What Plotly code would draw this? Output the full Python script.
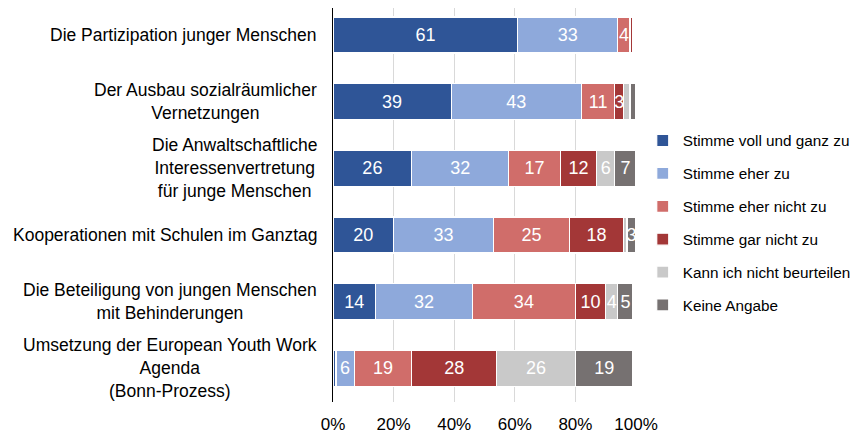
import plotly.graph_objects as go

# statements, top to bottom
categories = [
    "Die Partizipation junger Menschen",
    "Der Ausbau sozialräumlicher<br>Vernetzungen",
    "Die Anwaltschaftliche<br>Interessenvertretung<br>für junge Menschen",
    "Kooperationen mit Schulen im Ganztag",
    "Die Beteiligung von jungen Menschen<br>mit Behinderungen",
    "Umsetzung der European Youth Work<br>Agenda<br>(Bonn-Prozess)",
]

voll_und_ganz = [61, 39, 26, 20, 14, 1]
eher_zu = [33, 43, 32, 33, 32, 6]
eher_nicht = [4, 11, 17, 25, 34, 19]
gar_nicht = [1, 3, 12, 18, 10, 28]
nicht_beurteilen = [0, 2, 6, 1, 4, 26]
keine_angabe = [0, 2, 7, 3, 5, 19]

x_ticks = [0, 20, 40, 60, 80, 100]

series = [
    ("Stimme voll und ganz zu", voll_und_ganz, "#2F5597"),
    ("Stimme eher zu", eher_zu, "#8EA9DB"),
    ("Stimme eher nicht zu", eher_nicht, "#D06D6A"),
    ("Stimme gar nicht zu", gar_nicht, "#A33737"),
    ("Kann ich nicht beurteilen", nicht_beurteilen, "#C9C9C9"),
    ("Keine Angabe", keine_angabe, "#767171"),
]

FONT = "Liberation Sans"
keys = list(range(len(categories)))

fig = go.Figure()
for i, (name, vals, color) in enumerate(series):
    # Excel hides labels for the tiny slivers
    labels = [str(v) if v >= 3 else "" for v in vals]
    fig.add_trace(go.Bar(
        y=keys, x=vals, name=name, orientation="h",
        marker=dict(color=color, line=dict(color="white", width=1.2)),
        text=labels, texttemplate="%{text}", textposition="inside",
        insidetextanchor="middle",
        textfont=dict(color="white", size=18, family=FONT),
        legendgroup=f"g{i}", width=0.54,
    ))

for k, cat in zip(keys, categories):
    fig.add_annotation(x=0, xref="paper", y=k, yref="y", text=cat,
                       showarrow=False, xanchor="right", align="center",
                       xshift=-14, font=dict(size=17.5, color="black", family=FONT))

# page body has an 8px margin, so the figure is 8px smaller and shifted
fig.update_layout(
    barmode="stack", width=852, height=425,
    margin=dict(l=325, r=224, t=0, b=31, autoexpand=False),
    plot_bgcolor="white", paper_bgcolor="white",
    font=dict(family=FONT, color="black"),
    uniformtext=dict(minsize=18, mode="show"),
    showlegend=True,
    legend=dict(xref="container", yref="container", x=0.745, y=0.494,
                xanchor="left", yanchor="middle",
                traceorder="grouped", tracegroupgap=10,
                font=dict(size=15.3, family=FONT)),
)
fig.update_xaxes(range=[0, 100], tickvals=x_ticks,
                 ticktext=[f"{t}%" for t in x_ticks],
                 showgrid=True, gridcolor="#D9D9D9", zeroline=False,
                 tickfont=dict(size=17), ticks="", ticklabelstandoff=10)
fig.update_yaxes(tickvals=keys, showticklabels=False,
                 showline=True, linecolor="black", linewidth=1, showgrid=False,
                 range=[5.505, -0.405])

fig.write_html("out.html")
